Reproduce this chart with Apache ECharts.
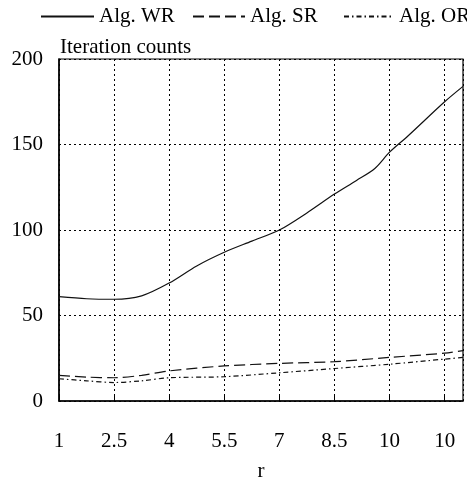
<!DOCTYPE html>
<html>
<head>
<meta charset="utf-8">
<script src="https://cdn.jsdelivr.net/npm/echarts@6/dist/echarts.min.js"></script>
<style>
  html, body { margin: 0; padding: 0; background: #fff; }
  #chart { width: 467px; height: 487px; }
</style>
</head>
<body>
<div id="chart"></div>
<script>
// x 轴刻度标签（原图最后一个也写作 10）
const tickLabels = ['1', '2.5', '4', '5.5', '7', '8.5', '10', '10'];
const seriesNames = ['Alg. WR', 'Alg. SR', 'Alg. OR'];

// r 位置（按刻度间距 1.5）
const rWR = [1, 1.75, 2.5, 3.25, 4, 4.75, 5.5, 6.25, 7, 7.75, 8.5, 9.1, 9.6, 10, 10.5, 11.5, 12];
const valWR = [61, 59.8, 59.5, 61.5, 69, 79, 87, 93.5, 100, 110, 121, 129, 136, 145.5, 155, 175, 184];

const rSR = [1, 1.75, 2.5, 3.25, 4, 5.5, 7, 8.5, 10, 11.5, 12];
const valSR = [15, 14, 13.6, 15, 17.6, 20.5, 22, 23, 25.5, 28, 29.5];

const rOR = [1, 1.75, 2.5, 3.25, 4, 5.5, 7, 8.5, 10, 11.5, 12];
const valOR = [13, 11.8, 10.8, 11.8, 13.6, 14.2, 16.5, 19, 21.5, 24.5, 25.5];

const FONT = 'Liberation Serif';
const FS = 21;

function pairs(xs, ys) {
  return xs.map((x, i) => [x, ys[i]]);
}

function lineSeries(name, xs, ys, type) {
  return {
    name: name,
    type: 'line',
    data: pairs(xs, ys),
    smooth: 0.3,
    symbol: 'none',
    lineStyle: { color: '#111', width: 1.2, type: type },
    itemStyle: { color: '#111' }
  };
}

function legendAt(name, left, width) {
  return {
    left: left,
    top: 1,
    itemWidth: width,
    itemHeight: 14,
    itemGap: 5,
    itemStyle: { opacity: 0 },
    textStyle: { fontFamily: FONT, fontSize: FS, color: '#000' },
    data: [name]
  };
}

const chart = echarts.init(document.getElementById('chart'), null, { renderer: 'canvas' });
chart.setOption({
  backgroundColor: '#fff',
  animation: false,
  textStyle: { fontFamily: FONT, color: '#000' },
  legend: [
    legendAt(seriesNames[0], 35, 53),
    legendAt(seriesNames[1], 187, 52),
    legendAt(seriesNames[2], 338, 50)
  ],
  grid: { left: 59, right: 4, top: 59, bottom: 76, show: true, borderColor: '#000', borderWidth: 1.2 },
  xAxis: {
    type: 'value',
    min: 1,
    max: 12,
    interval: 1.5,
    name: 'r',
    nameLocation: 'middle',
    nameGap: 60,
    nameTextStyle: { fontFamily: FONT, fontSize: FS, color: '#000' },
    axisLine: { lineStyle: { color: '#000', width: 1.5 } },
    axisTick: { inside: true, length: 5, lineStyle: { color: '#000' } },
    axisLabel: {
      margin: 30,
      fontFamily: FONT,
      fontSize: FS,
      color: '#000',
      showMaxLabel: false,
      formatter: v => tickLabels[Math.round((v - 1) / 1.5)] || ''
    },
    splitLine: { show: true, lineStyle: { color: '#000', width: 1, type: [2, 3] } }
  },
  yAxis: {
    type: 'value',
    min: 0,
    max: 200,
    interval: 50,
    name: 'Iteration counts',
    nameLocation: 'end',
    nameGap: 1,
    nameTextStyle: { fontFamily: FONT, fontSize: FS, color: '#000', align: 'left', padding: [0, 0, 0, 1] },
    axisLine: { show: true, lineStyle: { color: '#000', width: 1.5 } },
    axisTick: { show: false },
    axisLabel: { margin: 16, fontFamily: FONT, fontSize: FS, color: '#000' },
    splitLine: { show: true, lineStyle: { color: '#000', width: 1, type: [2, 3] } }
  },
  series: [
    lineSeries(seriesNames[0], rWR, valWR, 'solid'),
    lineSeries(seriesNames[1], rSR, valSR, [11, 5]),
    lineSeries(seriesNames[2], rOR, valOR, [5, 3, 1.5, 3])
  ]
});

window.addEventListener('resize', () => chart.resize());
</script>
</body>
</html>
